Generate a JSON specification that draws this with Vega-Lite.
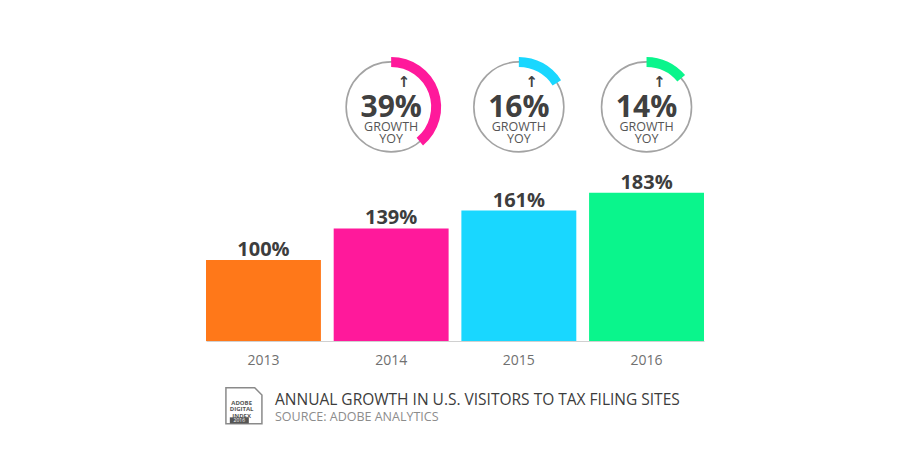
{
  "$schema": "https://vega.github.io/schema/vega-lite/v6.json",
  "width": 498,
  "height": 341,
  "autosize": {"type": "none"},
  "padding": {"left": 206, "top": 0, "right": 196, "bottom": 119},
  "background": "#ffffff",
  "config": {"view": {"stroke": null}, "font": "Open Sans"},
  "title": {
    "text": "ANNUAL GROWTH IN U.S. VISITORS TO TAX FILING SITES",
    "subtitle": "SOURCE: ADOBE ANALYTICS",
    "orient": "bottom",
    "anchor": "start",
    "frame": "group",
    "dx": 69,
    "offset": -34,
    "font": "Open Sans",
    "fontSize": 15.5,
    "fontWeight": "normal",
    "color": "#3c3c3c",
    "subtitleFont": "Open Sans",
    "subtitleFontSize": 12.5,
    "subtitleColor": "#8c8c8c",
    "subtitlePadding": 3
  },
  "datasets": {
    "bars": [
      {"year": "2013", "share": 100, "label": "100%"},
      {"year": "2014", "share": 139, "label": "139%"},
      {"year": "2015", "share": 161, "label": "161%"},
      {"year": "2016", "share": 183, "label": "183%"}
    ],
    "gauges": [
      {"year": "2014", "yoy": 0.39, "label": "39%"},
      {"year": "2015", "yoy": 0.16, "label": "16%"},
      {"year": "2016", "yoy": 0.14, "label": "14%"}
    ],
    "badge": [
      {"year": "2013", "name": "ADOBE DIGITAL INDEX", "edition": "2016"}
    ]
  },
  "layer": [
    {
      "data": {"name": "bars"},
      "mark": {"type": "bar"},
      "encoding": {
        "x": {
          "field": "year", "type": "ordinal",
          "scale": {"paddingInner": 0.1, "paddingOuter": 0},
          "axis": {
            "title": null, "ticks": false, "labelAngle": 0,
            "labelPadding": 12, "labelFontSize": 14, "labelColor": "#707070",
            "labelFont": "Open Sans", "domainColor": "#d0d0d0", "domainWidth": 1
          }
        },
        "y": {
          "field": "share", "type": "quantitative",
          "scale": {"domain": [0, 421], "nice": false, "zero": true},
          "axis": null
        },
        "color": {
          "field": "year", "type": "nominal",
          "scale": {"domain": ["2013", "2014", "2015", "2016"], "range": ["#ff7819", "#ff199b", "#19d7ff", "#0af58c"]},
          "legend": null
        }
      }
    },
    {
      "data": {"name": "bars"},
      "mark": {"type": "text", "baseline": "alphabetic", "dy": -4, "fontSize": 20, "fontWeight": "bold", "color": "#3d3d3d"},
      "encoding": {
        "x": {"field": "year", "type": "ordinal"},
        "y": {"field": "share", "type": "quantitative"},
        "text": {"field": "label"}
      }
    },
    {
      "data": {"name": "gauges"},
      "mark": {"type": "point", "shape": "circle", "size": 8100, "filled": false, "stroke": "#a3a3a3", "strokeWidth": 1.6, "opacity": 1},
      "encoding": {
        "x": {"field": "year", "type": "ordinal"},
        "y": {"datum": 289, "type": "quantitative"}
      }
    },
    {
      "data": {"name": "gauges"},
      "mark": {"type": "arc", "outerRadius": 50, "innerRadius": 40},
      "encoding": {
        "x": {"field": "year", "type": "ordinal"},
        "y": {"datum": 289, "type": "quantitative"},
        "theta": {"field": "yoy", "type": "quantitative", "stack": null, "scale": {"domain": [0, 1], "range": [0, 6.283185]}},
        "color": {"field": "year", "type": "nominal"}
      }
    },
    {
      "data": {"name": "gauges"},
      "mark": {"type": "text", "baseline": "alphabetic", "dy": 10, "fontSize": 30, "fontWeight": "bold", "color": "#404040"},
      "encoding": {
        "x": {"field": "year", "type": "ordinal"},
        "y": {"datum": 289, "type": "quantitative"},
        "text": {"field": "label"}
      }
    },
    {
      "data": {"name": "gauges"},
      "mark": {"type": "text", "baseline": "alphabetic", "dy": 24, "fontSize": 12.5, "color": "#555555"},
      "encoding": {
        "x": {"field": "year", "type": "ordinal"},
        "y": {"datum": 289, "type": "quantitative"},
        "text": {"value": "GROWTH"}
      }
    },
    {
      "data": {"name": "gauges"},
      "mark": {"type": "text", "baseline": "alphabetic", "dy": 36.5, "fontSize": 12.5, "color": "#555555"},
      "encoding": {
        "x": {"field": "year", "type": "ordinal"},
        "y": {"datum": 289, "type": "quantitative"},
        "text": {"value": "YOY"}
      }
    },
    {
      "data": {"name": "gauges"},
      "mark": {"type": "text", "baseline": "alphabetic", "dx": 13, "dy": -20, "fontSize": 15, "fontWeight": "bold", "font": "DejaVu Sans", "color": "#444444"},
      "encoding": {
        "x": {"field": "year", "type": "ordinal"},
        "y": {"datum": 289, "type": "quantitative"},
        "text": {"value": "↑"}
      }
    },
    {
      "data": {"name": "badge"},
      "mark": {"type": "point", "shape": "M-1,-1L0.6,-1L1,-0.6L1,1L-1,1Z", "size": 1296, "filled": true, "fill": "#ffffff", "stroke": "#8a8a8a", "strokeWidth": 1.5, "opacity": 1},
      "encoding": {
        "x": {"field": "year", "type": "ordinal", "bandPosition": 0.33},
        "y": {"datum": -80, "type": "quantitative"}
      }
    },
    {
      "data": {"name": "badge"},
      "mark": {"type": "text", "lineBreak": " ", "lineHeight": 6.6, "fontSize": 6, "fontWeight": "bold", "color": "#555555", "baseline": "middle"},
      "encoding": {
        "x": {"field": "year", "type": "ordinal", "bandPosition": 0.31},
        "y": {"datum": -76, "type": "quantitative"},
        "text": {"field": "name"}
      }
    },
    {
      "data": {"name": "badge"},
      "mark": {"type": "point", "shape": "M-1,-0.32L1,-0.32L1,0.32L-1,0.32Z", "size": 361, "filled": true, "fill": "#555555", "strokeWidth": 0, "opacity": 1},
      "encoding": {
        "x": {"field": "year", "type": "ordinal", "bandPosition": 0.29},
        "y": {"datum": -98, "type": "quantitative"}
      }
    },
    {
      "data": {"name": "badge"},
      "mark": {"type": "text", "fontSize": 5, "color": "#ffffff", "baseline": "middle"},
      "encoding": {
        "x": {"field": "year", "type": "ordinal", "bandPosition": 0.29},
        "y": {"datum": -98, "type": "quantitative"},
        "text": {"field": "edition"}
      }
    }
  ]
}
